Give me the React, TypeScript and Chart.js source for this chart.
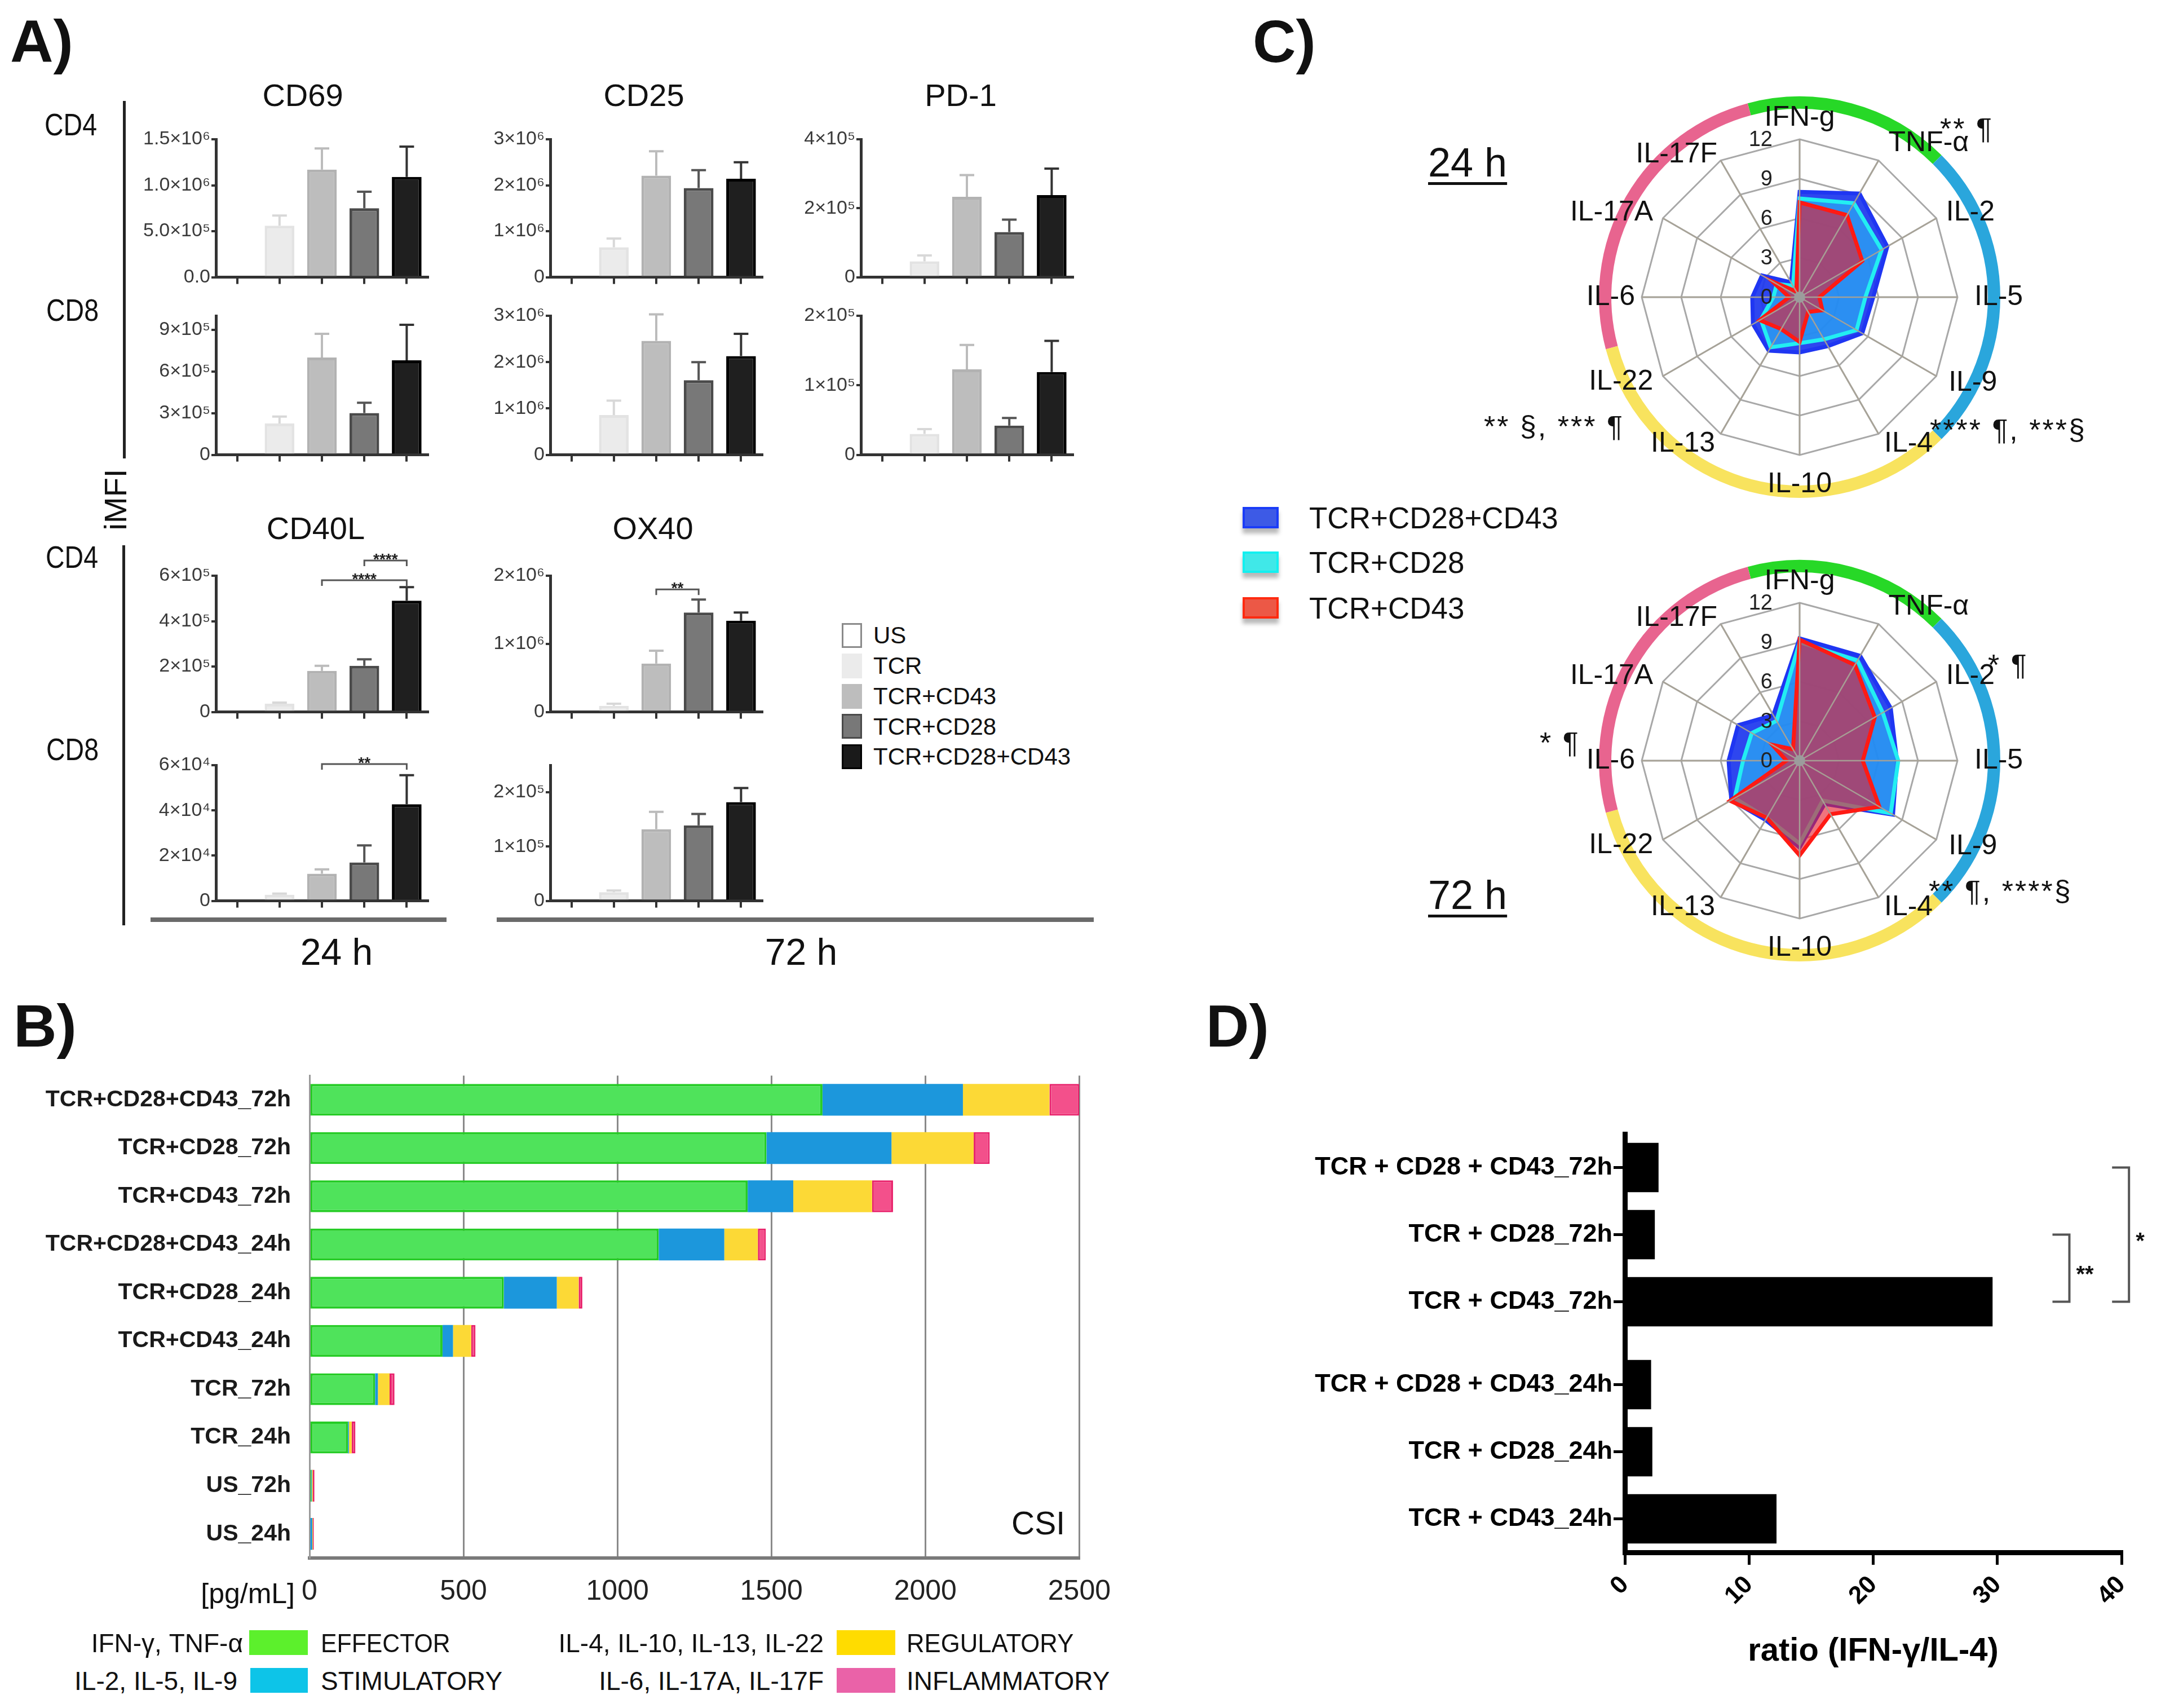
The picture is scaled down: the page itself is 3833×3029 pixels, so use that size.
import React, { useEffect, useRef } from 'react';
import { Chart, registerables } from 'chart.js';
Chart.register(...registerables);

const SANS = '"Liberation Sans", Arial, Helvetica, sans-serif';

/* ======================= Panel A data ======================= */
const groupsA = ['US', 'TCR', 'TCR+CD43', 'TCR+CD28', 'TCR+CD28+CD43'];

const cd69Cd4 = [0, 5.6e5, 1.17e6, 7.5e5, 1.09e6];
const cd69Cd4Err = [0, 1.1e5, 2.3e5, 1.8e5, 3.3e5];
const cd25Cd4 = [0, 0.65e6, 2.21e6, 1.94e6, 2.14e6];
const cd25Cd4Err = [0, 0.19e6, 0.53e6, 0.39e6, 0.36e6];
const pd1Cd4 = [0, 0.46e5, 2.33e5, 1.31e5, 2.38e5];
const pd1Cd4Err = [0, 0.17e5, 0.63e5, 0.36e5, 0.77e5];
const cd69Cd8 = [0, 2.25e5, 7.0e5, 3.0e5, 6.8e5];
const cd69Cd8Err = [0, 0.5e5, 1.7e5, 0.75e5, 2.55e5];
const cd25Cd8 = [0, 0.86e6, 2.46e6, 1.61e6, 2.13e6];
const cd25Cd8Err = [0, 0.31e6, 0.57e6, 0.39e6, 0.48e6];
const pd1Cd8 = [0, 0.3e5, 1.23e5, 0.42e5, 1.19e5];
const pd1Cd8Err = [0, 0.07e5, 0.35e5, 0.11e5, 0.45e5];
const cd40lCd4 = [0, 0.36e5, 1.81e5, 2.03e5, 4.9e5];
const cd40lCd4Err = [0, 0.05e5, 0.22e5, 0.29e5, 0.6e5];
const ox40Cd4 = [0, 0.09e6, 0.71e6, 1.46e6, 1.34e6];
const ox40Cd4Err = [0, 0.03e6, 0.19e6, 0.19e6, 0.12e6];
const cd40lCd8 = [0, 0.27e4, 1.2e4, 1.7e4, 4.27e4];
const cd40lCd8Err = [0, 0.05e4, 0.19e4, 0.75e4, 1.29e4];
const ox40Cd8 = [0, 0.16e5, 1.32e5, 1.39e5, 1.82e5];
const ox40Cd8Err = [0, 0.03e5, 0.32e5, 0.21e5, 0.26e5];

const ticksCd69Cd4 = [0, 5e5, 1e6, 1.5e6];
const labelsCd69Cd4 = ['0.0', '5.0×10⁵', '1.0×10⁶', '1.5×10⁶'];
const ticksCd25 = [0, 1e6, 2e6, 3e6];
const labelsCd25 = ['0', '1×10⁶', '2×10⁶', '3×10⁶'];
const ticksPd1Cd4 = [0, 2e5, 4e5];
const labelsPd1Cd4 = ['0', '2×10⁵', '4×10⁵'];
const ticksCd69Cd8 = [0, 3e5, 6e5, 9e5];
const labelsCd69Cd8 = ['0', '3×10⁵', '6×10⁵', '9×10⁵'];
const ticksPd1Cd8 = [0, 1e5, 2e5];
const labelsPd1Cd8 = ['0', '1×10⁵', '2×10⁵'];
const ticksCd40lCd4 = [0, 2e5, 4e5, 6e5];
const labelsCd40lCd4 = ['0', '2×10⁵', '4×10⁵', '6×10⁵'];
const ticksOx40Cd4 = [0, 1e6, 2e6];
const labelsOx40Cd4 = ['0', '1×10⁶', '2×10⁶'];
const ticksCd40lCd8 = [0, 2e4, 4e4, 6e4];
const labelsCd40lCd8 = ['0', '2×10⁴', '4×10⁴', '6×10⁴'];
const ticksOx40Cd8 = [0, 1e5, 2e5];
const labelsOx40Cd8 = ['0', '1×10⁵', '2×10⁵'];

/* ======================= Panel B data ======================= */
const categoriesB = [
  'TCR+CD28+CD43_72h', 'TCR+CD28_72h', 'TCR+CD43_72h', 'TCR+CD28+CD43_24h', 'TCR+CD28_24h',
  'TCR+CD43_24h', 'TCR_72h', 'TCR_24h', 'US_72h', 'US_24h',
];
const effector = [1666, 1484, 1423, 1134, 631, 432, 213, 125, 6, 3];
const stimulatory = [456, 406, 148, 213, 172, 34, 9, 3, 2, 6];
const regulatory = [281, 267, 256, 109, 71, 59, 38, 9, 3, 2];
const inflammatory = [97, 52, 68, 26, 12, 14, 16, 12, 5, 3];

/* ======================= Panel C data ======================= */
const cytokines = ['IFN-g', 'TNF-α', 'IL-2', 'IL-5', 'IL-9', 'IL-4', 'IL-10', 'IL-13', 'IL-22', 'IL-6', 'IL-17A', 'IL-17F'];
const cytokineGroupSizes = [2, 3, 4, 3];
const radarTicks = [0, 3, 6, 9, 12];
const comb24 = [8.0, 9.1, 7.7, 5.6, 5.5, 4.3, 4.2, 4.7, 4.1, 3.6, 3.3, 1.3];
const cd28_24 = [7.5, 8.25, 7.2, 5.0, 5.0, 3.7, 3.5, 4.4, 3.4, 2.0, 2.0, 1.0];
const cd43_24 = [7.2, 7.2, 5.5, 1.5, 2.0, 1.3, 3.4, 2.8, 3.5, 0.8, 2.4, 0.5];
const comb72 = [9.3, 9.2, 8.0, 7.4, 8.2, 3.8, 6.6, 5.2, 6.0, 5.4, 5.4, 4.0];
const cd28_72 = [9.0, 8.8, 7.3, 7.5, 8.0, 3.5, 6.3, 5.0, 5.7, 4.3, 4.2, 3.5];
const cd43_72 = [9.2, 8.4, 6.6, 4.8, 7.0, 4.7, 7.2, 5.0, 6.1, 1.0, 2.4, 1.0];

/* ======================= Panel D data ======================= */
const categoriesD = [
  'TCR + CD28 + CD43_72h', 'TCR + CD28_72h', 'TCR + CD43_72h',
  'TCR + CD28 + CD43_24h', 'TCR + CD28_24h', 'TCR + CD43_24h',
];
const ratioD = [2.7, 2.4, 29.6, 2.1, 2.2, 12.2];

/* ======================= helpers ======================= */
function ChartCanvas({ x, y, w, h, make }: any) {
  const ref = useRef<HTMLCanvasElement>(null);
  useEffect(() => {
    const c = new Chart(ref.current as any, make());
    return () => c.destroy();
  }, []);
  return (
    <canvas ref={ref} width={w} height={h}
      style={{ position: 'absolute', left: x, top: y, width: w, height: h }} />
  );
}

function T({ x, y, s, t, a = 'l', w = 400, c = '#111', sx = 1, st = {} }: any) {
  const tx = a === 'c' ? '-50%' : a === 'r' ? '-100%' : '0';
  return (
    <div style={{
      position: 'absolute', left: x, top: y - 0.8465 * s, fontSize: s, lineHeight: `${s}px`,
      fontFamily: SANS, fontWeight: w, color: c, whiteSpace: 'pre',
      transform: `translateX(${tx}) scaleX(${sx})`,
      transformOrigin: a === 'l' ? 'left center' : a === 'r' ? 'right center' : 'center center', ...st,
    }}>{t}</div>
  );
}

function Box({ x, y, w, h, bg, st = {} }: any) {
  return <div style={{ position: 'absolute', left: x, top: y, width: w, height: h, background: bg, boxSizing: 'border-box', ...st }} />;
}

/* ======================= Panel A charts ======================= */
const fillA = ['#ffffff', '#ebebeb', '#bdbdbd', '#787878', '#1f1f1f'];
const edgeA = ['#888888', '#e3e3e3', '#b2b2b2', '#4a4a4a', '#000000'];
const errColA = ['#888888', '#d8d8d8', '#bcbcbc', '#555555', '#333333'];
const A_YW = 150;
const A_PT = 60;
const A_PR = 24;
const A_PLOT_W = 376;
const A_COLS = [383, 976, 1527];
const A_ROWS = [{ top: 247, h: 245 }, { top: 560, h: 247 }, { top: 1021, h: 242 }, { top: 1357, h: 241 }];

function errPlugin(err: number[]) {
  return {
    id: 'errBars',
    afterDatasetsDraw(chart: any) {
      const { ctx } = chart;
      const y = chart.scales.y;
      const meta = chart.getDatasetMeta(0);
      const vals = chart.data.datasets[0].data;
      ctx.save();
      meta.data.forEach((bar: any, i: number) => {
        if (!err[i]) return;
        const yTop = y.getPixelForValue(vals[i] + err[i]);
        ctx.strokeStyle = errColA[i];
        ctx.lineWidth = 4;
        ctx.beginPath();
        ctx.moveTo(bar.x, bar.y);
        ctx.lineTo(bar.x, yTop);
        ctx.moveTo(bar.x - 13, yTop);
        ctx.lineTo(bar.x + 13, yTop);
        ctx.stroke();
      });
      ctx.restore();
    },
  };
}

function bracketPlugin(brackets: any[]) {
  return {
    id: 'sigBrackets',
    afterDraw(chart: any) {
      const { ctx } = chart;
      const { x, y } = chart.scales;
      ctx.save();
      brackets.forEach((b) => {
        const x1 = x.getPixelForValue(b.from);
        const x2 = x.getPixelForValue(b.to);
        const yy = y.getPixelForValue(b.value);
        ctx.strokeStyle = '#555';
        ctx.lineWidth = 3;
        ctx.beginPath();
        ctx.moveTo(x1, yy + 10);
        ctx.lineTo(x1, yy);
        ctx.lineTo(x2, yy);
        ctx.lineTo(x2, yy + 10);
        ctx.stroke();
        ctx.fillStyle = '#222';
        ctx.font = `bold 28px ${SANS}`;
        ctx.textAlign = 'center';
        ctx.textBaseline = 'alphabetic';
        ctx.fillText(b.text, (x1 + x2) / 2, yy + 7);
      });
      ctx.restore();
    },
  };
}

function miniBarConfig(mean: number[], err: number[], max: number, tv: number[], tl: string[], brackets: any[]) {
  return {
    type: 'bar',
    data: {
      labels: groupsA,
      datasets: [{
        data: mean, backgroundColor: fillA, borderColor: edgeA, borderWidth: 5,
        barPercentage: 0.7, categoryPercentage: 1,
      }],
    },
    options: {
      animation: false, responsive: false, devicePixelRatio: 1, events: [],
      layout: { padding: { top: A_PT, right: A_PR, left: 0, bottom: 0 } },
      plugins: { legend: { display: false }, tooltip: { enabled: false } },
      scales: {
        x: {
          grid: { display: true, drawOnChartArea: false, offset: false, tickLength: 12, color: '#333', lineWidth: 4 },
          border: { display: true, color: '#333', width: 5 },
          ticks: { display: false },
          afterFit: (s: any) => { s.height = 22; },
        },
        y: {
          min: 0, max,
          grid: { display: true, drawOnChartArea: false, tickLength: 8, color: '#333', lineWidth: 4 },
          border: { display: true, color: '#333', width: 5 },
          ticks: { font: { family: SANS, size: 34 }, color: '#3a3a3a', padding: 2, callback: (_v: any, i: number) => tl[i] },
          afterBuildTicks: (s: any) => { s.ticks = tv.map((v) => ({ value: v })); },
          afterFit: (s: any) => { s.width = A_YW; },
        },
      },
    },
    plugins: [errPlugin(err), bracketPlugin(brackets)],
  };
}

const aCharts = [
  { r: 0, c: 0, mean: cd69Cd4, err: cd69Cd4Err, max: 1.5e6, tv: ticksCd69Cd4, tl: labelsCd69Cd4, br: [] },
  { r: 0, c: 1, mean: cd25Cd4, err: cd25Cd4Err, max: 3e6, tv: ticksCd25, tl: labelsCd25, br: [] },
  { r: 0, c: 2, mean: pd1Cd4, err: pd1Cd4Err, max: 4e5, tv: ticksPd1Cd4, tl: labelsPd1Cd4, br: [] },
  { r: 1, c: 0, mean: cd69Cd8, err: cd69Cd8Err, max: 1e6, tv: ticksCd69Cd8, tl: labelsCd69Cd8, br: [] },
  { r: 1, c: 1, mean: cd25Cd8, err: cd25Cd8Err, max: 3e6, tv: ticksCd25, tl: labelsCd25, br: [] },
  { r: 1, c: 2, mean: pd1Cd8, err: pd1Cd8Err, max: 2e5, tv: ticksPd1Cd8, tl: labelsPd1Cd8, br: [] },
  {
    r: 2, c: 0, mean: cd40lCd4, err: cd40lCd4Err, max: 6e5, tv: ticksCd40lCd4, tl: labelsCd40lCd4,
    br: [{ from: 3, to: 4, value: 6.67e5, text: '****' }, { from: 2, to: 4, value: 5.8e5, text: '****' }],
  },
  {
    r: 2, c: 1, mean: ox40Cd4, err: ox40Cd4Err, max: 2e6, tv: ticksOx40Cd4, tl: labelsOx40Cd4,
    br: [{ from: 2, to: 3, value: 1.8e6, text: '**' }],
  },
  {
    r: 3, c: 0, mean: cd40lCd8, err: cd40lCd8Err, max: 6e4, tv: ticksCd40lCd8, tl: labelsCd40lCd8,
    br: [{ from: 2, to: 4, value: 6.05e4, text: '**' }],
  },
  { r: 3, c: 1, mean: ox40Cd8, err: ox40Cd8Err, max: 2.5e5, tv: ticksOx40Cd8, tl: labelsOx40Cd8, br: [] },
];

/* ======================= Panel B chart ======================= */
function stackedConfig() {
  return {
    type: 'bar',
    data: {
      labels: categoriesB,
      datasets: [
        { label: 'EFFECTOR', data: effector, backgroundColor: '#4fe35b', borderColor: '#25cc25', borderWidth: 4, borderSkipped: false },
        { label: 'STIMULATORY', data: stimulatory, backgroundColor: '#1c97dc', borderColor: '#1c97dc', borderWidth: 0 },
        { label: 'REGULATORY', data: regulatory, backgroundColor: '#fcd936', borderColor: '#fcd936', borderWidth: 0 },
        { label: 'INFLAMMATORY', data: inflammatory, backgroundColor: '#f3508b', borderColor: '#e8206a', borderWidth: 3, borderSkipped: false },
      ].map((d) => ({ ...d, barPercentage: 0.66, categoryPercentage: 1 })),
    },
    options: {
      indexAxis: 'y',
      animation: false, responsive: false, devicePixelRatio: 1, events: [],
      layout: { padding: { top: 47, right: 68, left: 0, bottom: 0 } },
      plugins: { legend: { display: false }, tooltip: { enabled: false } },
      scales: {
        x: {
          stacked: true, min: 0, max: 2500,
          ticks: { stepSize: 500, font: { family: SANS, size: 50 }, color: '#222', padding: 30, callback: (v: any) => String(v) },
          grid: { color: '#8a8a8a', lineWidth: 3, drawTicks: false },
          border: { display: true, color: '#7a7a7a', width: 6 },
          afterFit: (s: any) => { s.height = 137; },
        },
        y: {
          stacked: true,
          grid: { display: false, drawTicks: false },
          border: { display: true, color: '#9a9a9a', width: 3 },
          ticks: { font: { family: SANS, size: 41, weight: 'bold' }, color: '#1a1a1a', padding: 33 },
          afterFit: (s: any) => { s.width = 549; },
        },
      },
    },
  };
}

/* ======================= Panel C charts ======================= */
const ringColors = ['#27d827', '#2aa6dc', '#f8e35e', '#e8648f'];
const labelDist = [38, 35, 20, 30, 25, 20, 52, 20, 20, 12, 20, 12];

function radarDecor() {
  return {
    id: 'radarDecor',
    afterDatasetsDraw(chart: any) {
      const s = chart.scales.r;
      const ctx = chart.ctx;
      ctx.save();
      ctx.strokeStyle = 'rgba(168,162,150,0.95)';
      ctx.lineWidth = 2.5;
      for (let i = 0; i < cytokines.length; i++) {
        const p = s.getPointPositionForValue(i, s.max);
        ctx.beginPath();
        ctx.moveTo(s.xCenter, s.yCenter);
        ctx.lineTo(p.x, p.y);
        ctx.stroke();
      }
      ctx.fillStyle = '#9c9c9c';
      ctx.beginPath();
      ctx.arc(s.xCenter, s.yCenter, 10, 0, Math.PI * 2);
      ctx.fill();
      ctx.restore();
    },
    afterDraw(chart: any) {
      const s = chart.scales.r;
      const ctx = chart.ctx;
      const n = cytokines.length;
      const step = (Math.PI * 2) / n;
      const base = s.getIndexAngle(0) - Math.PI / 2;
      const ringR = s.drawingArea * 1.232;
      ctx.save();
      let k = 0;
      cytokineGroupSizes.forEach((cnt, gi) => {
        ctx.strokeStyle = ringColors[gi];
        ctx.lineWidth = 22;
        ctx.beginPath();
        ctx.arc(s.xCenter, s.yCenter, ringR, base + (k - 0.5) * step, base + (k + cnt - 0.5) * step);
        ctx.stroke();
        k += cnt;
      });
      ctx.fillStyle = '#111';
      ctx.font = `50px ${SANS}`;
      ctx.textBaseline = 'middle';
      cytokines.forEach((lab, i) => {
        const p = s.getPointPosition(i, s.drawingArea + labelDist[i]);
        ctx.textAlign = i === 0 || i === 6 ? 'center' : i < 6 ? 'left' : 'right';
        ctx.fillText(lab, p.x, p.y);
      });
      ctx.fillStyle = '#222';
      ctx.font = `38px ${SANS}`;
      ctx.textAlign = 'right';
      radarTicks.forEach((v) => {
        const p = s.getPointPositionForValue(0, v);
        ctx.fillText(String(v), p.x - 48, p.y + 2);
      });
      ctx.restore();
    },
  };
}

function radarConfig(blue: number[], cyan: number[], red: number[]) {
  return {
    type: 'radar',
    data: {
      labels: cytokines,
      datasets: [
        { label: 'TCR+CD28+CD43', data: blue, borderColor: '#1f36f2', backgroundColor: 'rgba(30,56,238,0.93)', borderWidth: 7, pointRadius: 0, fill: true, order: 3 },
        { label: 'TCR+CD28', data: cyan, borderColor: '#22eef2', backgroundColor: 'rgba(40,215,245,0.5)', borderWidth: 7, pointRadius: 0, fill: true, order: 2 },
        { label: 'TCR+CD43', data: red, borderColor: '#ff1a14', backgroundColor: 'rgba(230,30,45,0.62)', borderWidth: 7, pointRadius: 0, fill: true, order: 1 },
      ],
    },
    options: {
      animation: false, responsive: false, devicePixelRatio: 1, events: [],
      layout: { padding: 140 },
      elements: { line: { tension: 0 } },
      plugins: { legend: { display: false }, tooltip: { enabled: false } },
      scales: {
        r: {
          min: 0, max: 12,
          ticks: { stepSize: 3, display: false },
          grid: { color: '#a8a8a8', lineWidth: 3 },
          angleLines: { color: '#a8a8a8', lineWidth: 3 },
          pointLabels: { display: false },
        },
      },
    },
    plugins: [radarDecor()],
  };
}

/* ======================= Panel D chart ======================= */
const D_GAP = 0.235;
const posD = categoriesD.map((_, i) => i + (i >= 3 ? D_GAP : 0));

function ratioBracketPlugin() {
  const brackets = [{ from: 1, to: 2, at: 35.8, text: '**' }, { from: 0, to: 2, at: 40.6, text: '*' }];
  return {
    id: 'ratioBrackets',
    afterDraw(chart: any) {
      const { ctx } = chart;
      const { x, y } = chart.scales;
      ctx.save();
      brackets.forEach((b) => {
        const xx = x.getPixelForValue(b.at);
        const y1 = y.getPixelForValue(posD[b.from]);
        const y2 = y.getPixelForValue(posD[b.to]);
        ctx.strokeStyle = '#555';
        ctx.lineWidth = 4;
        ctx.beginPath();
        ctx.moveTo(xx - 30, y1);
        ctx.lineTo(xx, y1);
        ctx.lineTo(xx, y2);
        ctx.lineTo(xx - 30, y2);
        ctx.stroke();
        ctx.fillStyle = '#111';
        ctx.font = `bold 40px ${SANS}`;
        ctx.textAlign = 'left';
        ctx.textBaseline = 'alphabetic';
        ctx.fillText(b.text, xx + 12, (y1 + y2) / 2 + 24);
      });
      ctx.restore();
    },
  };
}

function ratioConfig() {
  return {
    type: 'bar',
    data: {
      datasets: [{
        data: ratioD.map((v, i) => ({ x: v, y: posD[i] })),
        backgroundColor: '#000', borderWidth: 0, barThickness: 87,
      }],
    },
    options: {
      indexAxis: 'y',
      animation: false, responsive: false, devicePixelRatio: 1, events: [],
      layout: { padding: { top: 61, right: 70, left: 0, bottom: 0 } },
      plugins: { legend: { display: false }, tooltip: { enabled: false } },
      scales: {
        x: {
          type: 'linear', min: 0, max: 40,
          ticks: { stepSize: 10, minRotation: 45, maxRotation: 45, font: { family: SANS, size: 44, weight: 'bold' }, color: '#000', padding: 10 },
          grid: { display: true, drawOnChartArea: false, tickLength: 22, color: '#000', lineWidth: 5 },
          border: { display: true, color: '#000', width: 9 },
          title: { display: true, text: 'ratio (IFN-γ/IL-4)', font: { family: SANS, size: 58, weight: 'bold' }, color: '#000', padding: { top: 0, bottom: 65 } },
          afterFit: (s: any) => { s.height = 276; },
        },
        y: {
          type: 'linear', reverse: true, offset: false,
          min: -0.5, max: posD[posD.length - 1] + 0.5,
          afterBuildTicks: (s: any) => { s.ticks = posD.map((v) => ({ value: v })); },
          ticks: { callback: (_v: any, i: number) => categoriesD[i], font: { family: SANS, size: 45, weight: 'bold' }, color: '#000', padding: 2 },
          grid: { display: true, drawOnChartArea: false, offset: false, tickLength: 20, color: '#000', lineWidth: 5 },
          border: { display: true, color: '#000', width: 9 },
          afterFit: (s: any) => { s.width = 732; },
        },
      },
    },
    plugins: [ratioBracketPlugin()],
  };
}

/* ======================= App ======================= */
export default function App() {
  const legendA = [
    { t: 'US', bg: '#ffffff', bd: '3px solid #8a8a8a' },
    { t: 'TCR', bg: '#ebebeb', bd: 'none' },
    { t: 'TCR+CD43', bg: '#bdbdbd', bd: 'none' },
    { t: 'TCR+CD28', bg: '#787878', bd: '3px solid #4a4a4a' },
    { t: 'TCR+CD28+CD43', bg: '#1a1a1a', bd: '3px solid #000' },
  ];
  const legendC = [
    { t: 'TCR+CD28+CD43', bg: '#3d5ae6', bd: '#1a3cf8', cy: 918 },
    { t: 'TCR+CD28', bg: '#40e8e8', bd: '#12f0f0', cy: 997 },
    { t: 'TCR+CD43', bg: '#ec5846', bd: '#ff2a10', cy: 1078 },
  ];
  const uline = { textDecoration: 'underline', textDecorationThickness: '5px', textUnderlineOffset: '10px' };
  return (
    <div style={{ position: 'absolute', left: 0, top: 0, width: 3833, height: 3029, background: '#fff', overflow: 'hidden' }}>
      {/* panel letters */}
      <T x={18} y={110} s={106} w={700} t="A)" />
      <T x={24} y={1856} s={106} w={700} t="B)" />
      <T x={2222} y={110} s={106} w={700} t="C)" />
      <T x={2139} y={1856} s={106} w={700} t="D)" />

      {/* ===== Panel A ===== */}
      <T x={537} y={188} s={56} a="c" t="CD69" />
      <T x={1142} y={188} s={56} a="c" t="CD25" />
      <T x={1704} y={188} s={56} a="c" t="PD-1" />
      <T x={560} y={956} s={56} a="c" t="CD40L" />
      <T x={1158} y={956} s={56} a="c" t="OX40" />
      <T x={79} y={240} s={56} sx={0.83} t="CD4" />
      <T x={82} y={569} s={56} sx={0.83} t="CD8" />
      <T x={81} y={1007} s={56} sx={0.83} t="CD4" />
      <T x={82} y={1348} s={56} sx={0.83} t="CD8" />
      <Box x={218} y={179} w={5} h={634} bg="#222" />
      <Box x={217} y={967} w={5} h={674} bg="#222" />
      <div style={{
        position: 'absolute', left: 205, top: 886, fontSize: 56, lineHeight: '56px', fontFamily: SANS,
        color: '#111', whiteSpace: 'pre', transform: 'translate(-50%, -50%) rotate(-90deg)',
      }}>iMFI</div>
      <Box x={267} y={1627} w={525} h={8} bg="#6a6a6a" />
      <Box x={881} y={1627} w={1059} h={8} bg="#6a6a6a" />
      <T x={597} y={1711} s={66} a="c" t="24 h" />
      <T x={1421} y={1711} s={66} a="c" t="72 h" />
      {legendA.map((l, i) => {
        const cy = 1127 + i * 53.75;
        return (
          <React.Fragment key={l.t}>
            <Box x={1493} y={cy - 22} w={36} h={44} bg={l.bg} st={{ border: l.bd }} />
            <T x={1549} y={cy + 15} s={42} t={l.t} />
          </React.Fragment>
        );
      })}
      {aCharts.map((ch, i) => {
        const row = A_ROWS[ch.r];
        return (
          <ChartCanvas key={i} x={A_COLS[ch.c] - A_YW} y={row.top - A_PT}
            w={A_YW + A_PLOT_W + A_PR} h={A_PT + row.h + 22}
            make={() => miniBarConfig(ch.mean, ch.err, ch.max, ch.tv, ch.tl, ch.br)} />
        );
      })}

      {/* ===== Panel B ===== */}
      <ChartCanvas x={0} y={1850} w={2000} h={1050} make={stackedConfig} />
      <T x={523} y={2843} s={50} a="r" t="[pg/mL]" />
      <T x={1889} y={2721} s={57} a="r" t="CSI" />
      <T x={431} y={2930} s={46} a="r" t="IFN-γ, TNF-α" />
      <Box x={442} y={2891} w={104} h={44} bg="#5cf02c" />
      <T x={569} y={2930} s={46} sx={0.93} t="EFFECTOR" />
      <T x={1461} y={2930} s={46} a="r" t="IL-4, IL-10, IL-13, IL-22" />
      <Box x={1484} y={2891} w={104} h={44} bg="#ffdc00" />
      <T x={1608} y={2930} s={46} sx={0.95} t="REGULATORY" />
      <T x={421} y={2997} s={46} a="r" t="IL-2, IL-5, IL-9" />
      <Box x={444} y={2958} w={102} h={44} bg="#0dc4e8" />
      <T x={569} y={2997} s={46} t="STIMULATORY" />
      <T x={1461} y={2997} s={46} a="r" t="IL-6, IL-17A, IL-17F" />
      <Box x={1484} y={2958} w={104} h={44} bg="#ea62a8" />
      <T x={1608} y={2997} s={46} t="INFLAMMATORY" />

      {/* ===== Panel C ===== */}
      <ChartCanvas x={2772} y={107} w={840} h={840} make={() => radarConfig(comb24, cd28_24, cd43_24)} />
      <ChartCanvas x={2772} y={929} w={840} h={840} make={() => radarConfig(comb72, cd28_72, cd43_72)} />
      <T x={2533} y={313} s={72} t="24 h" st={uline} />
      <T x={2533} y={1612} s={72} t="72 h" st={uline} />
      {legendC.map((l) => (
        <React.Fragment key={l.t}>
          <Box x={2204} y={l.cy - 19} w={64} h={38} bg={l.bg}
            st={{ border: `4px solid ${l.bd}`, boxShadow: '0 9px 7px rgba(0,0,0,0.28)' }} />
          <T x={2322} y={l.cy + 19} s={53} t={l.t} />
        </React.Fragment>
      ))}
      <T x={3441} y={246} s={52} t="** ¶" st={{ letterSpacing: '3px' }} />
      <T x={2632} y={774} s={52} t="** §, *** ¶" st={{ letterSpacing: '3px' }} />
      <T x={3423} y={780} s={52} t="**** ¶, ***§" st={{ letterSpacing: '3px' }} />
      <T x={3526} y={1197} s={52} t="* ¶" st={{ letterSpacing: '3px' }} />
      <T x={2731} y={1335} s={52} t="* ¶" st={{ letterSpacing: '3px' }} />
      <T x={3421} y={1598} s={52} t="** ¶, ****§" st={{ letterSpacing: '3px' }} />

      {/* ===== Panel D ===== */}
      <ChartCanvas x={2150} y={1950} w={1683} h={1079} make={ratioConfig} />
    </div>
  );
}
